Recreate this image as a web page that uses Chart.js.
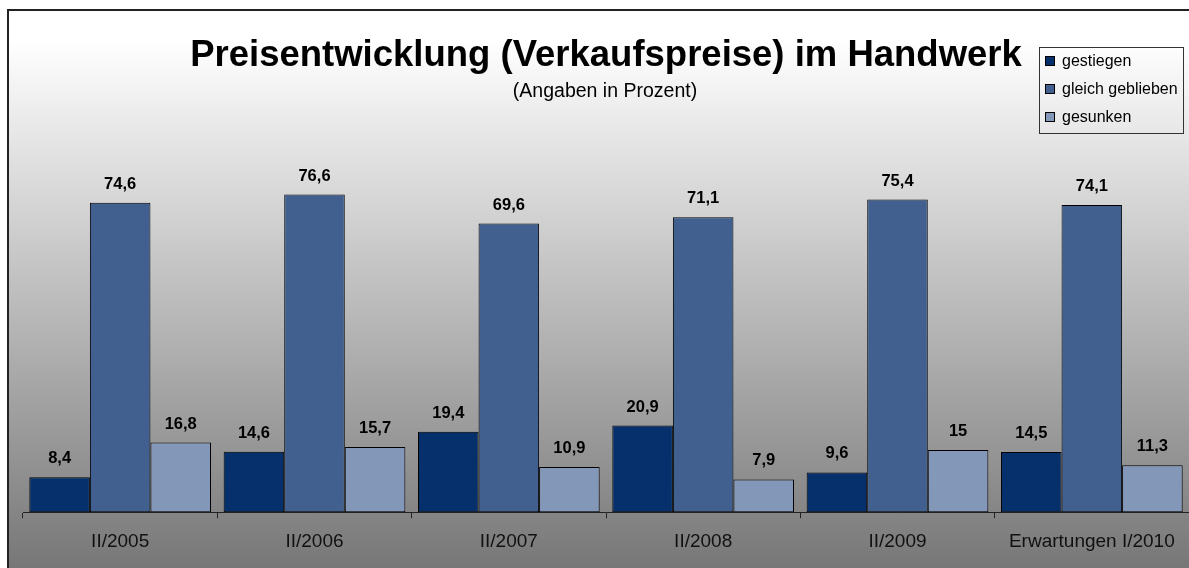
<!DOCTYPE html>
<html lang="de">
<head>
<meta charset="utf-8">
<title>Preisentwicklung (Verkaufspreise) im Handwerk</title>
<script src="https://cdn.jsdelivr.net/npm/chart.js@4/dist/chart.umd.min.js"></script>
<style>
    html, body { margin: 0; padding: 0; background: #ffffff; overflow: hidden; }
    #wrap { position: relative; width: 1189px; height: 568px; }
</style>
</head>
<body>
<div id="wrap"><canvas id="priceChart" width="1189" height="568"></canvas></div>
<script>
const categories = ['II/2005', 'II/2006', 'II/2007', 'II/2008', 'II/2009', 'Erwartungen I/2010'];
const seriesNames = ['gestiegen', 'gleich geblieben', 'gesunken'];
const gestiegen = [8.4, 14.6, 19.4, 20.9, 9.6, 14.5];
const gleichGeblieben = [74.6, 76.6, 69.6, 71.1, 75.4, 74.1];
const gesunken = [16.8, 15.7, 10.9, 7.9, 15, 11.3];
const seriesColors = ['#05306c', '#41608f', '#8397b9'];
const titleText = 'Preisentwicklung (Verkaufspreise) im Handwerk';
const subtitleText = '(Angaben in Prozent)';

const FONT = '"Liberation Sans", Arial, sans-serif';

document.addEventListener('DOMContentLoaded', function() {
    const ctx = document.getElementById('priceChart').getContext('2d');

    // background gradient + the cropped frame (top and left edge only)
    const backgroundPlugin = {
        id: 'background',
        beforeDraw(chart) {
            const c = chart.ctx;
            const w = chart.width;
            const h = chart.height;
            c.save();
            c.fillStyle = '#ffffff';
            c.fillRect(0, 0, w, h);
            const grad = c.createLinearGradient(0, 40, 0, h);
            grad.addColorStop(0, '#ffffff');
            grad.addColorStop(1, '#777777');
            c.fillStyle = grad;
            c.fillRect(9, 11, w - 9, h - 11);
            c.strokeStyle = '#222222';
            c.lineWidth = 2;
            c.beginPath();
            c.moveTo(w, 10);
            c.lineTo(8, 10);
            c.lineTo(8, h);
            c.stroke();
            c.restore();
        }
    };

    // title, subtitle and the boxed legend in the top right corner
    const headerPlugin = {
        id: 'header',
        afterDraw(chart) {
            const c = chart.ctx;
            c.save();
            c.fillStyle = '#000000';
            c.textAlign = 'center';
            c.textBaseline = 'alphabetic';
            c.font = 'bold 36.5px ' + FONT;
            c.fillText(titleText, 606, 66);
            c.font = '19.5px ' + FONT;
            c.fillText(subtitleText, 605, 97);

            c.strokeStyle = '#333333';
            c.lineWidth = 1;
            c.strokeRect(1039.5, 47.5, 144, 86);
            const rows = [61, 89, 117];
            c.font = '16px ' + FONT;
            c.textAlign = 'left';
            c.textBaseline = 'middle';
            chart.data.datasets.forEach(function(ds, i) {
                c.fillStyle = ds.backgroundColor;
                c.fillRect(1045.5, rows[i] - 4.5, 9, 9);
                c.strokeStyle = '#000000';
                c.strokeRect(1045.5, rows[i] - 4.5, 9, 9);
                c.fillStyle = '#000000';
                c.fillText(ds.label, 1062, rows[i] + 1);
            });
            c.restore();
        }
    };

    // value labels above each bar, German decimal comma
    const valueLabelPlugin = {
        id: 'valueLabels',
        afterDatasetsDraw(chart) {
            const c = chart.ctx;
            c.save();
            c.font = 'bold 16.5px ' + FONT;
            c.fillStyle = '#000000';
            c.textAlign = 'center';
            c.textBaseline = 'alphabetic';
            chart.data.datasets.forEach(function(ds, i) {
                const meta = chart.getDatasetMeta(i);
                meta.data.forEach(function(bar, j) {
                    const txt = String(ds.data[j]).replace('.', ',');
                    c.fillText(txt, bar.x, bar.y - 14);
                });
            });
            c.restore();
        }
    };

    const values = [gestiegen, gleichGeblieben, gesunken];

    new Chart(ctx, {
        type: 'bar',
        data: {
            labels: categories,
            datasets: seriesNames.map(function(name, i) {
                return {
                    label: name,
                    data: values[i],
                    backgroundColor: seriesColors[i],
                    borderColor: '#000000',
                    borderWidth: 1,
                    borderSkipped: false,
                    categoryPercentage: 0.935,
                    barPercentage: 1.0
                };
            })
        },
        options: {
            responsive: false,
            animation: false,
            events: [],
            layout: {
                padding: { top: 139, left: 23, right: -4, bottom: 3 }
            },
            plugins: {
                legend: { display: false },
                title: { display: false },
                tooltip: { enabled: false }
            },
            scales: {
                x: {
                    grid: {
                        offset: true,
                        drawOnChartArea: false,
                        tickLength: 6,
                        color: '#222222'
                    },
                    border: { color: '#222222', width: 1 },
                    ticks: {
                        padding: 12,
                        color: '#111111',
                        maxRotation: 0,
                        autoSkip: false,
                        font: { family: FONT, size: 19 }
                    }
                },
                y: {
                    display: false,
                    min: 0,
                    max: 90
                }
            }
        },
        plugins: [backgroundPlugin, valueLabelPlugin, headerPlugin]
    });
});
</script>
</body>
</html>
